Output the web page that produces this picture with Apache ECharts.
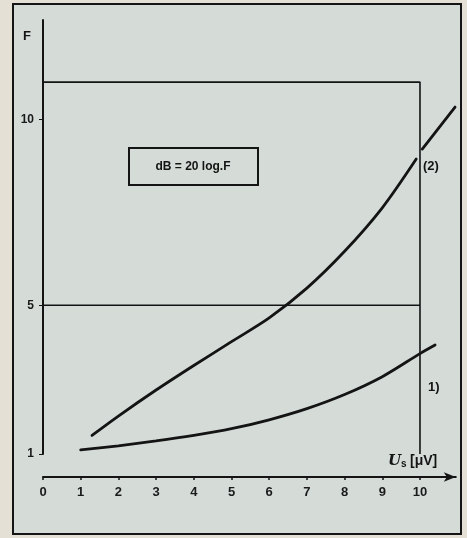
<!DOCTYPE html>
<html><head><meta charset="utf-8">
<script src="https://cdn.jsdelivr.net/npm/echarts@6/dist/echarts.min.js"></script>
<style>
html,body{margin:0;padding:0;background:#e4e0d6;width:467px;height:538px;overflow:hidden;}
#frame{position:absolute;left:12px;top:3px;width:446px;height:528px;border:2px solid #151515;background:#d5dcd8;}
#chart{position:absolute;left:0;top:0;width:467px;height:538px;}
</style></head><body>
<div id="frame"></div><div id="chart"></div>
<script>
// ---- data ----
const xTicks = [0, 1, 2, 3, 4, 5, 6, 7, 8, 9, 10];
const yTicks = [1, 5, 10];
const curve1X = [1.0, 2, 3, 4, 5, 6, 7, 8, 9, 10, 10.4];
const curve1F = [1.11, 1.22, 1.35, 1.5, 1.68, 1.92, 2.22, 2.6, 3.08, 3.7, 3.93];
const curve2X = [1.3, 2, 3, 4, 5, 6, 7, 8, 9, 9.9, 10, 10.06, 10.93];
const curve2F = [1.5, 2.02, 2.72, 3.38, 4.02, 4.66, 5.46, 6.45, 7.62, 8.93, null, 9.2, 10.33];
const boxX = [0, 10, 10];
const boxF = [11, 11, 1];
const refX = [0, 10];
const refF = [5, 5];
const xMin = 0, xMax = 10.95, yMin = 1, yMax = 12.67;

const zip = (a, b) => a.map((v, i) => [v, b[i]]);
const FONT = 'Liberation Sans';
const INK = '#141414';

const chart = echarts.init(document.getElementById('chart'), null, {renderer: 'canvas'});
chart.setOption({
  backgroundColor: 'transparent',
  animation: false,
  grid: {left: 43, right: 11.2, top: 20, bottom: 84, containLabel: false},
  xAxis: {
    type: 'value', min: xMin, max: xMax, offset: 23,
    axisLine: {show: true, onZero: false, lineStyle: {color: INK, width: 2}, symbol: ['none', 'arrow'], symbolSize: [7, 12]},
    axisTick: {show: true, customValues: xTicks, length: 3, lineStyle: {color: INK, width: 1.5}},
    axisLabel: {customValues: xTicks, margin: 9, color: '#1a1a1a', fontFamily: FONT, fontWeight: 'bold', fontSize: 13},
    splitLine: {show: false}
  },
  yAxis: {
    type: 'value', min: yMin, max: yMax,
    axisLine: {show: true, onZero: false, lineStyle: {color: INK, width: 2}},
    axisTick: {show: true, customValues: yTicks, length: 4, lineStyle: {color: INK, width: 1}},
    axisLabel: {customValues: yTicks, margin: 9, color: '#1a1a1a', fontFamily: FONT, fontWeight: 'bold', fontSize: 12},
    splitLine: {show: false}
  },
  series: [
    {type: 'line', data: zip(boxX, boxF), showSymbol: false, lineStyle: {color: INK, width: 1.6}, z: 2},
    {type: 'line', data: zip(refX, refF), showSymbol: false, lineStyle: {color: INK, width: 1.4}, z: 2},
    {type: 'line', data: zip(curve1X, curve1F), smooth: 0.3, showSymbol: false, lineStyle: {color: INK, width: 2.8, cap: 'round'}, z: 3},
    {type: 'line', data: zip(curve2X, curve2F), smooth: 0.3, connectNulls: false, showSymbol: false, lineStyle: {color: INK, width: 2.8, cap: 'round'}, z: 3}
  ],
  graphic: [
    {type: 'text', left: 23, top: 30, style: {text: 'F', font: 'bold 13px "Liberation Sans"', fill: INK}},
    {type: 'rect', shape: {x: 129, y: 148, width: 129, height: 37}, style: {fill: 'none', stroke: INK, lineWidth: 2}},
    {type: 'text', x: 193, y: 167, style: {text: 'dB = 20 log.F', font: 'bold 12px "Liberation Sans"', fill: INK, align: 'center', verticalAlign: 'middle'}},
    {type: 'text', x: 423, y: 166, style: {text: '(2)', font: 'bold 13px "Liberation Sans"', fill: INK, verticalAlign: 'middle'}},
    {type: 'text', x: 428, y: 387, style: {text: '1)', font: 'bold 13px "Liberation Sans"', fill: INK, verticalAlign: 'middle'}},
    {type: 'text', x: 388, y: 461, style: {
      text: '{u|U}{s|s} {b|[μV]}', verticalAlign: 'middle', fill: INK,
      rich: {
        u: {font: 'italic bold 15px "DejaVu Serif"', fill: INK},
        s: {font: 'bold 10px "Liberation Sans"', fill: INK, padding: [6, 0, 0, 0]},
        b: {font: 'bold 14px "Liberation Sans"', fill: INK}
      }
    }}
  ]
});
</script>
</body></html>
